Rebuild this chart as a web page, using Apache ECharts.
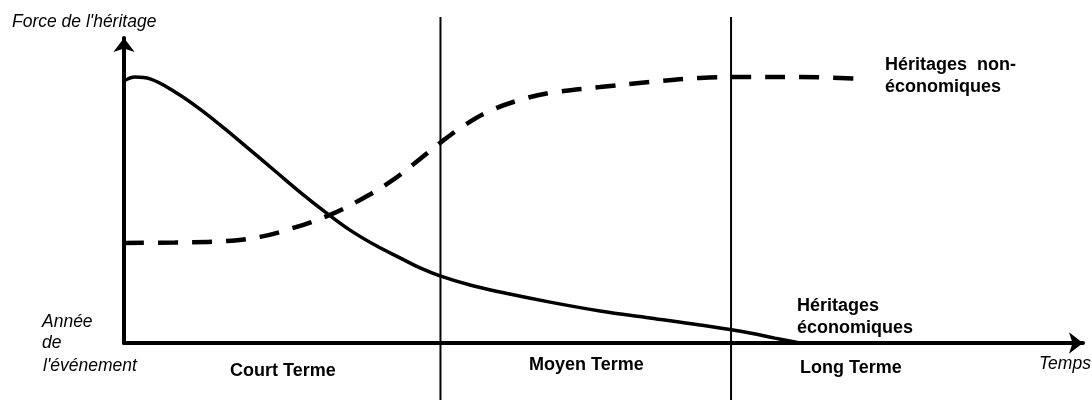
<!DOCTYPE html>
<html>
<head>
<meta charset="utf-8">
<script src="https://cdn.jsdelivr.net/npm/echarts@6/dist/echarts.min.js"></script>
<style>
  html, body { margin: 0; padding: 0; background: #fff; }
  #main { width: 1092px; height: 400px; }
</style>
</head>
<body>
<div id="main"></div>
<script>
// temps (0-100) et force de l'héritage (0-100)
var econX = [0, 1.15, 2.71, 5.32, 7.92, 10.53, 13.14, 15.75, 18.35, 20.96, 23.57, 26.17, 28.78, 30.87, 32.95, 36.08, 39.21, 44.42, 49.64, 54.85, 60.06, 65.28, 67.88, 70.49];
var econY = [85.9, 87.2, 86.6, 82.3, 76.7, 70.2, 63.3, 56.4, 49.5, 43.0, 37.0, 32.1, 27.9, 24.6, 22.0, 19.0, 16.7, 13.4, 10.5, 8.2, 5.9, 3.3, 1.6, 0];

var nonEconX = [0, 5.32, 10.53, 14.18, 17.62, 21.48, 24.61, 27.74, 30.34, 32.95, 35.56, 38.16, 41.29, 44.42, 49.64, 54.85, 60.06, 65.28, 70.49, 77.06];
var nonEconY = [32.8, 32.95, 33.4, 34.8, 37.7, 42.0, 46.9, 52.8, 59.0, 65.6, 71.5, 76.1, 79.7, 82.0, 83.9, 85.6, 86.9, 87.2, 87.2, 86.6];

// séparations court / moyen / long terme
var dividerX = [33.0, 63.3];

function pairs(xs, ys) {
    var out = [];
    for (var i = 0; i < xs.length; i++) {
        out.push([xs[i], ys[i]]);
    }
    return out;
}

var myChart = echarts.init(document.getElementById('main'));

var dividerSeries = [];
for (var i = 0; i < dividerX.length; i++) {
    dividerSeries.push({
        type: 'line',
        xAxisIndex: 1,
        yAxisIndex: 1,
        symbol: 'none',
        silent: true,
        lineStyle: { color: '#000', width: 2 },
        data: [[dividerX[i], 0], [dividerX[i], 1]]
    });
}

var italic = { fontFamily: 'Liberation Sans', fontStyle: 'italic', fontSize: 17.5, fill: '#000' };
var bold = { fontFamily: 'Liberation Sans', fontWeight: 'bold', fontSize: 18, fill: '#000' };

function txt(text, x, y, base, align) {
    return {
        type: 'text',
        left: x,
        top: y,
        style: Object.assign({ text: text, textAlign: align || 'left', textVerticalAlign: 'middle' }, base)
    };
}

myChart.setOption({
    animation: false,
    grid: [
        { left: 124, top: 38, width: 959, height: 305 },
        { left: 124, top: 17, width: 959, height: 383 }
    ],
    xAxis: [
        {
            type: 'value', min: 0, max: 100, gridIndex: 0,
            axisLine: { show: true, symbol: ['none', 'arrow'], symbolSize: [16, 14], lineStyle: { color: '#000', width: 4 } },
            axisTick: { show: false }, axisLabel: { show: false }, splitLine: { show: false }
        },
        { type: 'value', min: 0, max: 100, gridIndex: 1, show: false }
    ],
    yAxis: [
        {
            type: 'value', min: 0, max: 100, gridIndex: 0,
            axisLine: { show: true, symbol: ['none', 'arrow'], symbolSize: [16, 14], lineStyle: { color: '#000', width: 4 } },
            axisTick: { show: false }, axisLabel: { show: false }, splitLine: { show: false }
        },
        { type: 'value', min: 0, max: 1, gridIndex: 1, show: false }
    ],
    series: [
        {
            name: 'Héritages économiques',
            type: 'line',
            smooth: 0.4,
            symbol: 'none',
            lineStyle: { color: '#000', width: 3.5 },
            data: pairs(econX, econY)
        },
        {
            name: 'Héritages non-économiques',
            type: 'line',
            smooth: 0.4,
            symbol: 'none',
            lineStyle: { color: '#000', width: 4.5, type: [20, 14] },
            data: pairs(nonEconX, nonEconY)
        }
    ].concat(dividerSeries),
    graphic: [
        txt("Force de l'héritage", 12, 13, italic),
        txt('Année', 42, 313, italic),
        txt('de', 42, 334, italic),
        txt("l'événement", 43, 357, italic),
        txt('Temps', 1039, 355, italic),
        txt('Court Terme', 230, 362, bold),
        txt('Moyen Terme', 529, 356, bold),
        txt('Long Terme', 800, 359, bold),
        txt('Héritages', 797, 297, bold),
        txt('économiques', 797, 319, bold),
        txt('Héritages  non-', 885, 56, bold),
        txt('économiques', 885, 78, bold)
    ]
});
</script>
</body>
</html>
